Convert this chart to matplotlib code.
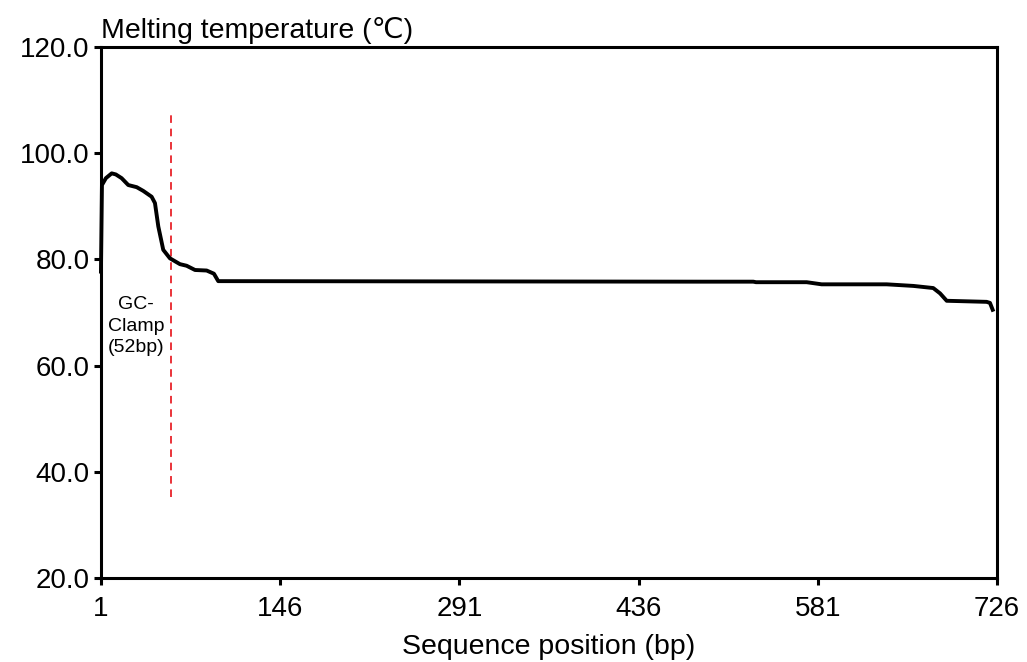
import numpy as np
import matplotlib
matplotlib.use("Agg")
import matplotlib.pyplot as plt

plt.rcParams['font.family'] = ['Liberation Sans', 'DejaVu Sans']

# melting profile
pos = [1, 1.8, 5, 9.7, 13, 17.7, 23.1, 29.9, 35.2, 42.0, 44.7, 47.4, 51.4,
       56.8, 64.9, 70.3, 77.1, 86.5, 92.4, 95.9, 485.7, 528.8, 531, 572.0,
       584.1, 636.7, 658.3, 674.4, 679.9, 685.3, 717.6, 720.3, 722.5]
tm = [77.7, 94.0, 95.3, 96.2, 96.0, 95.3, 94.0, 93.6, 92.9, 91.8, 90.6, 86.2,
      81.8, 80.2, 79.1, 78.8, 78.0, 77.9, 77.3, 75.9, 75.8, 75.8, 75.7, 75.7,
      75.3, 75.3, 75.0, 74.6, 73.6, 72.2, 72.0, 71.8, 70.5]

clamp_x = 57.5
clamp_y = [35.3, 107.8]
xticks = [1, 146, 291, 436, 581, 726]
yticks = [20, 40, 60, 80, 100, 120]

fig = plt.figure(figsize=(10.27, 6.62), dpi=100)
ax = fig.add_axes([0.0983, 0.127, 0.8725, 0.802])

ax.plot(pos, tm, color='black', lw=2.8, solid_joinstyle='round', clip_on=False, zorder=3)
ax.plot([clamp_x, clamp_x], clamp_y, color='#e8232a', lw=1.3, dashes=(4.2, 3.2))
ax.text(29.3, 67.4, "GC-\nClamp\n(52bp)", ha='center', va='center', fontsize=14,
        linespacing=1.35)

ax.set_xlim(1, 726)
ax.set_ylim(20, 120)
ax.set_xticks(xticks)
ax.set_xticklabels([str(t) for t in xticks])
ax.set_yticks(yticks)
ax.set_yticklabels(["%.1f" % t for t in yticks])

for s in ax.spines.values():
    s.set_linewidth(2.2)
ax.tick_params(width=2.2, length=5, labelsize=20)
ax.tick_params(axis='y', pad=3)
ax.tick_params(axis='x', pad=8)

ax.set_xlabel("Sequence position (bp)", fontsize=20.5, labelpad=9)
ax.text(0, 1.006, "Melting temperature (℃)", transform=ax.transAxes,
        ha='left', va='bottom', fontsize=20.5)

fig.savefig("out.png", dpi=100)
